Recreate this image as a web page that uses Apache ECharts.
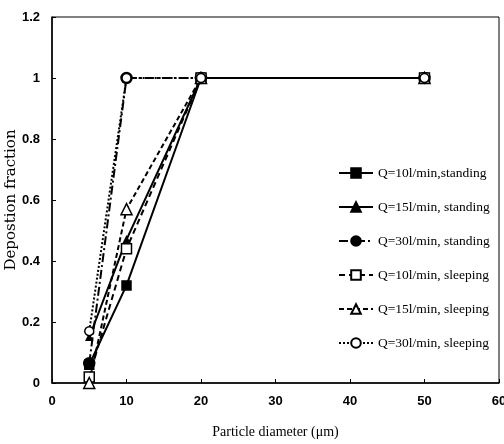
<!DOCTYPE html>
<html><head><meta charset="utf-8">
<script src="https://cdn.jsdelivr.net/npm/echarts@6/dist/echarts.min.js"></script>
<style>html,body{margin:0;padding:0;background:#fff}#c{width:504px;height:444px}</style>
</head><body><div id="c"></div>
<script>
const diameters = [5, 10, 20, 50];
const q10Standing = [0.06, 0.32, 1, 1];
const q15Standing = [0.15, 0.47, 1, 1];
const q30Standing = [0.065, 1, 1, 1];
const q10Sleeping = [0.02, 0.44, 1, 1];
const q15Sleeping = [0.0, 0.57, 1, 1];
const q30Sleeping = [0.17, 1, 1, 1];
const seriesNames = ['Q=10l/min,standing','Q=15l/min, standing','Q=30l/min, standing','Q=10l/min, sleeping','Q=15l/min, sleeping','Q=30l/min, sleeping'];

const pts = v => diameters.map((d,i)=>[d, v[i]]);
const mk = (name, vals, sym, size, filled, lineType) => ({
  name, type:'line', data: pts(vals), symbol: sym, symbolSize: size,
  lineStyle:{color:'#000', width:2, type: lineType},
  itemStyle:{color: filled ? '#000' : '#fff', borderColor:'#000', borderWidth:1.5},
  emphasis:{disabled:true}
});
const chart = echarts.init(document.getElementById('c'));
const tickFont = {fontFamily:'Liberation Sans Narrow, Arial Narrow, Liberation Sans, sans-serif', fontWeight:'bold', fontSize:13, color:'#000'};
chart.setOption({
  animation:false,
  grid:{left:52, right:5, top:17, bottom:61, containLabel:false, outerBoundsMode:'none', show:true, borderColor:'#000', borderWidth:1},
  legend:{
    orient:'vertical', left:333, top:161, itemGap:20, itemWidth:34, itemHeight:12,
    textStyle:{fontFamily:'Liberation Serif, Times New Roman, serif', fontSize:13.5, color:'#000'},
    data: seriesNames
  },
  xAxis:{type:'value', min:0, max:60, interval:10,
    name:'Particle diameter (μm)', nameLocation:'middle', nameGap:42, nameMoveOverlap:false,
    nameTextStyle:{fontFamily:'Liberation Serif, Times New Roman, serif', fontSize:14, color:'#000'},
    axisLine:{lineStyle:{color:'#000', width:1.5}},
    axisTick:{inside:true, length:4, lineStyle:{color:'#000'}},
    axisLabel:Object.assign({margin:12}, tickFont),
    splitLine:{show:false}},
  yAxis:{type:'value', min:0, max:1.2, interval:0.2,
    name:'Depostion fraction', nameLocation:'middle', nameGap:33, nameMoveOverlap:false,
    nameTextStyle:{fontFamily:'DejaVu Serif, serif', fontSize:15, color:'#000'},
    axisLine:{show:true, lineStyle:{color:'#000', width:1.5}},
    axisTick:{show:true, inside:true, length:4, lineStyle:{color:'#000'}},
    axisLabel:Object.assign({margin:12, formatter: v => String(+v.toFixed(1))}, tickFont),
    splitLine:{show:false}},
  series:[
    mk(seriesNames[0], q10Standing, 'rect', 9, true, 'solid'),
    mk(seriesNames[1], q15Standing, 'triangle', 6, true, 'solid'),
    mk(seriesNames[2], q30Standing, 'circle', 11, true, [9,3,2,3]),
    mk(seriesNames[3], q10Sleeping, 'rect', 10, false, [6,4]),
    mk(seriesNames[4], q15Sleeping, 'triangle', 11, false, [5,3]),
    mk(seriesNames[5], q30Sleeping, 'circle', 9, false, [2,2])
  ]
});
</script></body></html>
